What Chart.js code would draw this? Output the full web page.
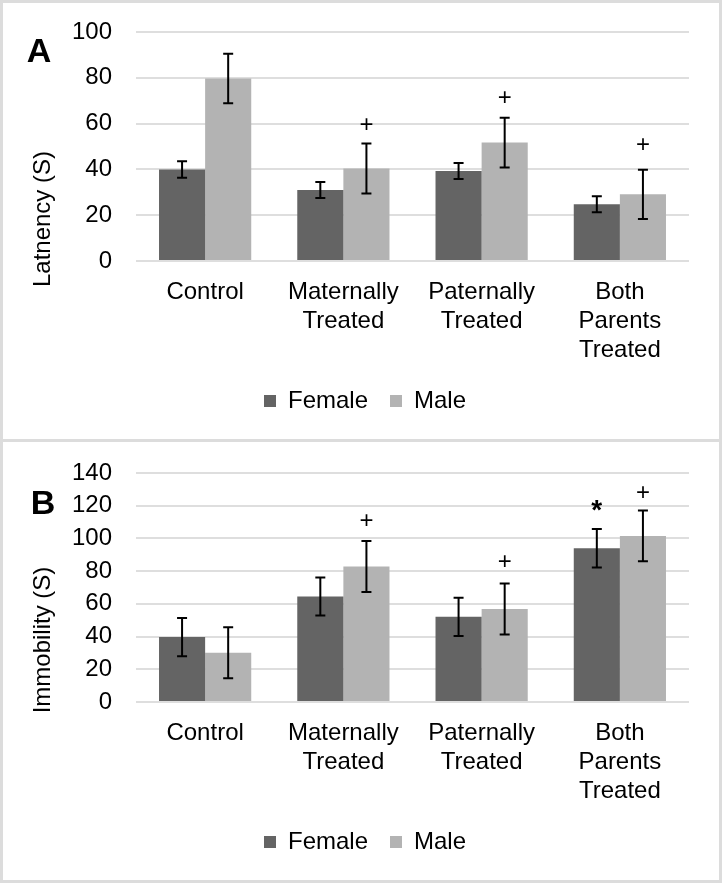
<!DOCTYPE html>
<html>
<head>
<meta charset="utf-8">
<script src="https://cdn.jsdelivr.net/npm/chart.js@4"></script>
<style>
  body { margin: 0; background: #fff; }
  #frame { position: absolute; left: 0; top: 0; width: 716px; height: 877px; border: 3px solid #dcdcdc; }
  #divider { position: absolute; left: 0; top: 439px; width: 722px; height: 3px; background: #dcdcdc; }
  canvas { position: absolute; left: 0; }
  #chartA { top: 0; }
  #chartB { top: 441px; }
</style>
</head>
<body>
<div id="frame"></div>
<div id="divider"></div>
<canvas id="chartA" width="722" height="441"></canvas>
<canvas id="chartB" width="722" height="441"></canvas>
<script>
const categories = ['Control', ['Maternally', 'Treated'], ['Paternally', 'Treated'], ['Both', 'Parents', 'Treated']];
const seriesNames = ['Female', 'Male'];

// panel A - latency
const latFemale = [40, 31, 39.3, 24.8];
const latFemaleErr = [3.6, 3.5, 3.5, 3.5];
const latMale = [79.7, 40.4, 51.7, 29.1];
const latMaleErr = [10.8, 10.9, 10.9, 10.8];
const latFemaleMarks = ['', '', '', ''];
const latMaleMarks = ['', '+', '+', '+'];
const latMaleMarkAt = [null, 59.2, 71, 50.6];
const latTicks = [0, 20, 40, 60, 80, 100];

// panel B - immobility
const immFemale = [39.7, 64.5, 52.1, 94.0];
const immFemaleErr = [11.7, 11.6, 11.7, 11.7];
const immMale = [30.1, 82.8, 56.8, 101.5];
const immMaleErr = [15.6, 15.6, 15.6, 15.5];
const immFemaleMarks = ['', '', '', '*'];
const immFemaleMarkAt = [null, null, null, 119.2];
const immMaleMarks = ['', '+', '+', '+'];
const immMaleMarkAt = [null, 110.5, 85.1, 127.8];
const immTicks = [0, 20, 40, 60, 80, 100, 120, 140];

const FONT = "'Liberation Sans', Arial, sans-serif";
Chart.defaults.font.family = FONT;
Chart.defaults.font.size = 24;
Chart.defaults.color = '#000';

// error bars + significance marks, drawn from the bar elements and y scale
const errorBars = {
  id: 'errorBars',
  afterDatasetsDraw(chart) {
    const ctx = chart.ctx;
    const y = chart.scales.y;
    chart.data.datasets.forEach((ds, i) => {
      const meta = chart.getDatasetMeta(i);
      meta.data.forEach((bar, j) => {
        const v = ds.data[j], e = ds.err[j];
        const top = y.getPixelForValue(v + e);
        const bot = y.getPixelForValue(v - e);
        ctx.save();
        ctx.strokeStyle = '#000';
        ctx.lineWidth = 2;
        ctx.beginPath();
        ctx.moveTo(bar.x, top); ctx.lineTo(bar.x, bot);
        ctx.moveTo(bar.x - 5, top); ctx.lineTo(bar.x + 5, top);
        ctx.moveTo(bar.x - 5, bot); ctx.lineTo(bar.x + 5, bot);
        ctx.stroke();
        const m = ds.marks[j];
        if (m) {
          ctx.fillStyle = '#000';
          ctx.textAlign = 'center';
          ctx.textBaseline = 'middle';
          let py = y.getPixelForValue(ds.markAt[j]);
          if (m === '*') { ctx.font = 'bold 28px ' + FONT; py += 4; }
          else ctx.font = '24px ' + FONT;
          ctx.fillText(m, bar.x, py);
        }
        ctx.restore();
      });
    });
  }
};

// y axis title and panel letter
const panelText = {
  id: 'panelText',
  afterDraw(chart, args, opts) {
    const ctx = chart.ctx;
    ctx.save();
    ctx.fillStyle = '#000';
    ctx.textAlign = 'center';
    ctx.textBaseline = 'middle';
    ctx.font = 'bold 34px ' + FONT;
    ctx.fillText(opts.letter, opts.letterX, opts.letterY);
    ctx.translate(43, opts.titleY);
    ctx.rotate(-Math.PI / 2);
    ctx.font = '24px ' + FONT;
    ctx.fillText(opts.title, 0, 0);
    ctx.restore();
  }
};

function makeChart(id, yTitle, letter, letterX, letterY, titleY, ticks, female, femaleErr, male, maleErr, fMarks, fMarkAt, mMarks, mMarkAt) {
  return new Chart(document.getElementById(id), {
    type: 'bar',
    data: {
      labels: categories,
      datasets: [
        { label: seriesNames[0], data: female, err: femaleErr, marks: fMarks, markAt: fMarkAt,
          backgroundColor: '#646464', borderWidth: 0, barPercentage: 1, categoryPercentage: 0.667 },
        { label: seriesNames[1], data: male, err: maleErr, marks: mMarks, markAt: mMarkAt,
          backgroundColor: '#b3b3b3', borderWidth: 0, barPercentage: 1, categoryPercentage: 0.667 }
      ]
    },
    options: {
      responsive: false,
      animation: false,
      devicePixelRatio: 1,
      layout: { padding: { left: 41, right: 33, top: 32, bottom: 18 } },
      plugins: {
        legend: {
          position: 'bottom',
          labels: { boxWidth: 12, boxHeight: 12, padding: 22, font: { size: 24 }, color: '#000' }
        },
        tooltip: { enabled: false },
        panelText: { letter: letter, letterX: letterX, letterY: letterY, title: yTitle, titleY: titleY }
      },
      scales: {
        x: {
          grid: { display: false, drawTicks: false },
          border: { display: false },
          ticks: { padding: 17, color: '#000', font: { size: 24 } },
          afterFit: (s) => { s.height = 106; }
        },
        y: {
          min: ticks[0],
          max: ticks[ticks.length - 1],
          afterBuildTicks: (s) => { s.ticks = ticks.map(v => ({ value: v })); },
          grid: { color: '#dedede', lineWidth: 2, drawTicks: false },
          border: { display: false },
          ticks: { padding: 24, color: '#000', font: { size: 24 } },
          // fixed axis width; tick padding shouldn't push the plot top down
          afterFit: (s) => { s.width = 95; s.paddingTop = 10; s.paddingBottom = 10; }
        }
      }
    },
    plugins: [errorBars, panelText]
  });
}

makeChart('chartA', 'Latnency (S)', 'A', 39, 53, 219, latTicks,
  latFemale, latFemaleErr, latMale, latMaleErr, latFemaleMarks, [null, null, null, null], latMaleMarks, latMaleMarkAt);
makeChart('chartB', 'Immobility (S)', 'B', 43, 64, 199, immTicks,
  immFemale, immFemaleErr, immMale, immMaleErr, immFemaleMarks, immFemaleMarkAt, immMaleMarks, immMaleMarkAt);
</script>
</body>
</html>
